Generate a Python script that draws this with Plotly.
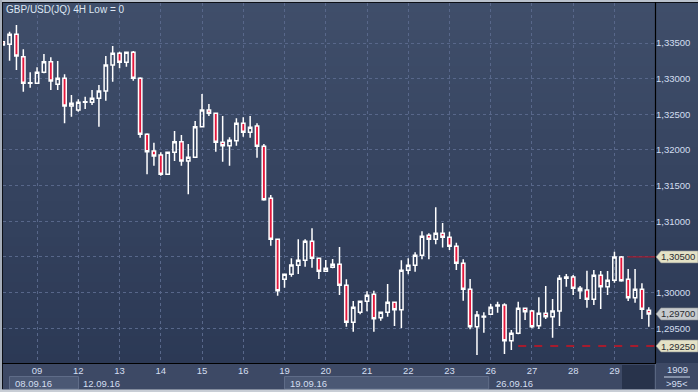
import plotly.graph_objects as go

# ---------------- data ----------------
title_text = "GBP/USD(JQ) 4H Low = 0"
days = ["08", "09", "12", "13", "14", "15", "16", "19", "20", "21", "22", "23", "26", "27", "28", "29"]
first_day_hours = ["04:00", "08:00", "12:00", "16:00", "20:00"]
day_hours = ["00:00", "04:00", "08:00", "12:00", "16:00", "20:00"]

opens = [1.33518, 1.33482, 1.33622, 1.33308, 1.32935, 1.32935, 1.33089, 1.33238, 1.32921, 1.33005,
         1.32616, 1.32560, 1.32668, 1.32668, 1.32724, 1.32827, 1.33191, 1.33356, 1.33229, 1.33370,
         1.33005, 1.32220, 1.31985, 1.31929, 1.31659, 1.31967, 1.32116, 1.31845, 1.31897, 1.32326,
         1.32560, 1.32514, 1.32107, 1.32060, 1.32130, 1.32374, 1.32248, 1.32336, 1.32051, 1.31322,
         1.30747, 1.30186, 1.30256, 1.30382, 1.30452, 1.30719, 1.30480, 1.30298, 1.30354, 1.30396,
         1.30102, 1.29583, 1.29723, 1.29877, 1.29975, 1.29647, 1.29723, 1.29863, 1.29760, 1.30312,
         1.30382, 1.30522, 1.30803, 1.30747, 1.30831, 1.30775, 1.30649, 1.30410, 1.30046, 1.29521,
         1.29657, 1.29695, 1.29811, 1.29825, 1.29325, 1.29429, 1.29779, 1.29741, 1.29535, 1.29709,
         1.29661, 1.29741, 1.30200, 1.30218, 1.30060, 1.30036, 1.29905, 1.30242, 1.30082, 1.30172,
         1.30500, 1.30186, 1.29928, 1.30046, 1.29751]
highs = [1.33528, 1.33658, 1.33752, 1.33412, 1.33089, 1.33159, 1.33346, 1.33299, 1.33248, 1.33061,
         1.32771, 1.32710, 1.32747, 1.32841, 1.32911, 1.33318, 1.33458, 1.33378, 1.33374, 1.33388,
         1.33019, 1.32234, 1.32102, 1.31967, 1.31967, 1.32266, 1.32210, 1.32083, 1.32406, 1.32785,
         1.32644, 1.32514, 1.32476, 1.32177, 1.32444, 1.32458, 1.32476, 1.32374, 1.32083, 1.31368,
         1.30747, 1.30256, 1.30480, 1.30747, 1.30747, 1.30901, 1.30480, 1.30457, 1.30471, 1.30639,
         1.30186, 1.29882, 1.29877, 1.30018, 1.30026, 1.29723, 1.30120, 1.29863, 1.30452, 1.30480,
         1.30565, 1.30859, 1.30831, 1.31196, 1.30975, 1.30853, 1.30699, 1.30466, 1.30190, 1.29741,
         1.29723, 1.29839, 1.29872, 1.29849, 1.29475, 1.29872, 1.29779, 1.29755, 1.29933, 1.30092,
         1.29910, 1.30246, 1.30260, 1.30246, 1.30092, 1.30307, 1.30316, 1.30302, 1.30302, 1.30573,
         1.30513, 1.30330, 1.30330, 1.30130, 1.29793]
lows = [1.33465, 1.33252, 1.33121, 1.32817, 1.32873, 1.32925, 1.33075, 1.32841, 1.32841, 1.32374,
        1.32466, 1.32536, 1.32574, 1.32630, 1.32326, 1.32691, 1.32957, 1.33145, 1.33168, 1.32971,
        1.32172, 1.31659, 1.31779, 1.31639, 1.31659, 1.31845, 1.31779, 1.31378, 1.31897, 1.32318,
        1.32476, 1.31975, 1.31835, 1.31779, 1.32060, 1.32186, 1.32172, 1.31891, 1.31288, 1.30657,
        1.29956, 1.30068, 1.30222, 1.30260, 1.30363, 1.30349, 1.30190, 1.30292, 1.30340, 1.29966,
        1.29521, 1.29451, 1.29695, 1.29737, 1.29451, 1.29605, 1.29661, 1.29531, 1.29503, 1.30256,
        1.30292, 1.30466, 1.30466, 1.30677, 1.30632, 1.30597, 1.30316, 1.29886, 1.29485, 1.29124,
        1.29437, 1.29695, 1.29717, 1.29138, 1.29194, 1.29415, 1.29615, 1.29499, 1.29489, 1.29629,
        1.29367, 1.29531, 1.30082, 1.29966, 1.29910, 1.29788, 1.29825, 1.29769, 1.29966, 1.30138,
        1.30152, 1.29882, 1.29858, 1.29629, 1.29521]
closes = [1.33472, 1.33622, 1.33318, 1.32935, 1.32943, 1.33089, 1.33238, 1.32967, 1.33005, 1.32616,
          1.32654, 1.32668, 1.32677, 1.32724, 1.32827, 1.33191, 1.33356, 1.33229, 1.33370, 1.33005,
          1.32220, 1.31975, 1.31915, 1.31659, 1.31967, 1.32116, 1.31845, 1.31897, 1.32326, 1.32560,
          1.32514, 1.32107, 1.32060, 1.32135, 1.32374, 1.32248, 1.32318, 1.32051, 1.31302, 1.30747,
          1.30026, 1.30256, 1.30386, 1.30452, 1.30719, 1.30480, 1.30298, 1.30340, 1.30396, 1.30102,
          1.29583, 1.29793, 1.29877, 1.29961, 1.29633, 1.29723, 1.29863, 1.29760, 1.30312, 1.30382,
          1.30522, 1.30789, 1.30747, 1.30831, 1.30775, 1.30649, 1.30410, 1.30046, 1.29521, 1.29685,
          1.29667, 1.29793, 1.29825, 1.29325, 1.29429, 1.29779, 1.29731, 1.29521, 1.29709, 1.29661,
          1.29741, 1.30200, 1.30218, 1.30060, 1.30026, 1.29905, 1.30242, 1.30082, 1.30172, 1.30500,
          1.30166, 1.29928, 1.30046, 1.29765, 1.29700]

y_tick_values = [1.295, 1.300, 1.305, 1.310, 1.315, 1.320, 1.325, 1.330, 1.335]
y_tick_labels = ["1,29500", "1,30000", "", "1,31000", "1,31500", "1,32000", "1,32500", "1,33000", "1,33500"]
x_tick_days = ["09", "12", "13", "14", "15", "16", "19", "20", "21", "22", "23", "26", "27", "28", "29"]
week_labels = ["08.09.16", "12.09.16", "19.09.16", "26.09.16"]
week_days = ["08", "12", "19", "26"]

alert_level = 1.30500
alert_start_day, alert_start_hour = "29", "08:00"
support_level = 1.29250
support_start_day, support_start_hour = "26", "16:00"
last_price = closes[-1]
tag_levels = [alert_level, last_price, support_level]
tag_labels = ["1,30500", "1,29700", "1,29250"]
tag_fills = ["#e4e2c6", "#c6cacd", "#e4e2c6"]
corner_top, corner_bottom = "1909", ">95<"

# ---------------- build ----------------
times = [f"{days[0]} {h}" for h in first_day_hours]
for d in days[1:]:
    times += [f"{d} {h}" for h in day_hours]
idx = {t: i for i, t in enumerate(times)}

W, H = 698, 392
L, R, T, B = 3, 43, 3, 29
PW, PH = W - L - R, H - T - B


def px(x):
    return (x - L) / PW


def py(y):
    return (H - B - y) / PH


fig = go.Figure()
fig.add_trace(go.Candlestick(
    x=times, open=opens, high=highs, low=lows, close=closes,
    increasing=dict(line=dict(color="#ffffff", width=1.5), fillcolor="rgba(0,0,0,0)"),
    decreasing=dict(line=dict(color="#ffffff", width=1.5), fillcolor="#e5173c"),
    whiskerwidth=0, hoverinfo="skip", showlegend=False,
))

shapes = []
# gradient background (plot + right axis column)
n = 40
top_c, bot_c = (63, 78, 106), (44, 57, 85)
for k in range(n):
    f = k / (n - 1)
    c = tuple(round(top_c[j] + (bot_c[j] - top_c[j]) * f) for j in range(3))
    y0 = T + PH * k / n
    y1 = T + PH * (k + 1) / n + 0.6
    shapes.append(dict(type="rect", xref="paper", yref="paper", x0=px(0), x1=px(W),
                       y0=py(y1), y1=py(y0), fillcolor="rgb(%d,%d,%d)" % c, line_width=0, layer="below"))
# bottom strip
shapes.append(dict(type="rect", xref="paper", yref="paper", x0=px(0), x1=px(W), y0=py(H), y1=py(H - B),
                   fillcolor="#3d4965", line_width=0, layer="below"))
# week boxes in date row
shapes.append(dict(type="rect", xref="paper", yref="paper", x0=px(9.5), x1=px(78.5), y0=py(389), y1=py(376.5),
                   fillcolor="#4b5874", line=dict(color="#5f6c88", width=1), layer="below"))
shapes.append(dict(type="rect", xref="x", yref="paper", x0=idx["19 00:00"], x1=idx["26 00:00"] - 0.3,
                   y0=py(389), y1=py(376.5), fillcolor="#4b5874", line=dict(color="#5f6c88", width=1), layer="below"))
# dark scroll box
shapes.append(dict(type="rect", xref="paper", yref="paper", x0=px(622), x1=px(654.5), y0=py(389), y1=py(365),
                   fillcolor="#28334b", line_width=0, layer="below"))
# borders
shapes += [
    dict(type="rect", xref="paper", yref="paper", x0=px(0), x1=px(W), y0=py(2), y1=py(0),
         fillcolor="#b9c1cc", line_width=0, layer="above"),
    dict(type="line", xref="paper", yref="paper", x0=px(2), x1=px(W), y0=py(2.5), y1=py(2.5),
         line=dict(color="#0c0f16", width=1), layer="above"),
    dict(type="rect", xref="paper", yref="paper", x0=px(0), x1=px(2), y0=py(H), y1=py(0),
         fillcolor="#a6aeba", line_width=0, layer="above"),
    dict(type="line", xref="paper", yref="paper", x0=px(2.5), x1=px(2.5), y0=py(389), y1=py(2),
         line=dict(color="#0c0f16", width=1), layer="above"),
    dict(type="line", xref="paper", yref="paper", x0=px(655.5), x1=px(655.5), y0=py(363), y1=py(2),
         line=dict(color="#000000", width=1.2), layer="above"),
    dict(type="line", xref="paper", yref="paper", x0=px(2), x1=px(656), y0=py(363.5), y1=py(363.5),
         line=dict(color="#000000", width=1.2), layer="above"),
    dict(type="line", xref="paper", yref="paper", x0=px(655.5), x1=px(655.5), y0=py(389), y1=py(364),
         line=dict(color="#58657f", width=1), layer="above"),
    dict(type="rect", xref="paper", yref="paper", x0=px(0), x1=px(W), y0=py(H), y1=py(389.5),
         fillcolor="#c8cdd5", line_width=0, layer="above"),
    dict(type="line", xref="paper", yref="paper", x0=px(664), x1=px(690), y0=py(377), y1=py(377),
         line=dict(color="#c9d5e8", width=1), layer="above"),
]
# alert & support lines
shapes.append(dict(type="line", xref="x", yref="y", x0=idx[f"{alert_start_day} {alert_start_hour}"] - 0.1,
                   x1=len(times), y0=alert_level, y1=alert_level,
                   line=dict(color="#a8182c", width=1.2), layer="above"))
shapes.append(dict(type="line", xref="x", yref="y", x0=idx[f"{support_start_day} {support_start_hour}"],
                   x1=len(times), y0=support_level, y1=support_level,
                   line=dict(color="#a51c2e", width=2, dash="8px,8px"), layer="above"))
# price tags
for lv, fc in zip(tag_levels, tag_fills):
    shapes.append(dict(type="path", xref="paper", yref="y", xsizemode="pixel", ysizemode="pixel",
                       xanchor=1.0, yanchor=lv,
                       path="M 1,0 L 6,6 L 43,6 L 43,-6 L 6,-6 Z",
                       fillcolor=fc, line=dict(color="#8a8d90", width=0.6), layer="above"))

font = "Liberation Sans, Arial, sans-serif"
lab_col = "#d3def0"
ann = [dict(text=title_text, xref="paper", yref="paper", x=px(4), y=py(9.5), xanchor="left", yanchor="middle",
            showarrow=False, font=dict(family=font, size=10, color="#dde6f3"))]
for lv, lb in zip(tag_levels, tag_labels):
    ann.append(dict(text=lb, xref="paper", yref="y", x=px(658.5), y=lv, xanchor="left", yanchor="middle",
                    showarrow=False, font=dict(family=font, size=9.5, color="#2a2c30")))
ann.append(dict(text=week_labels[0], xref="paper", yref="paper", x=px(13), y=py(383), xanchor="left",
                yanchor="middle", showarrow=False, font=dict(family=font, size=9.5, color=lab_col)))
for wl, wd in zip(week_labels[1:], week_days[1:]):
    ann.append(dict(text=wl, xref="x", yref="paper", x=f"{wd} 00:00", xshift=3, y=py(383), xanchor="left",
                    yanchor="middle", showarrow=False, font=dict(family=font, size=9.5, color=lab_col)))
ann.append(dict(text=corner_top, xref="paper", yref="paper", x=px(677), y=py(369.5), xanchor="center",
                yanchor="middle", showarrow=False, font=dict(family=font, size=9.5, color=lab_col)))
ann.append(dict(text=corner_bottom, xref="paper", yref="paper", x=px(677), y=py(383), xanchor="center",
                yanchor="middle", showarrow=False, font=dict(family=font, size=9.5, color=lab_col)))

grid_col = "#58678a"
fig.update_layout(
    width=W, height=H, autosize=False,
    margin=dict(l=L, r=R, t=T, b=B, pad=0),
    paper_bgcolor="#3b4863", plot_bgcolor="rgba(0,0,0,0)",
    shapes=shapes, annotations=ann,
    font=dict(family=font, size=9.5, color=lab_col),
    xaxis=dict(type="category", categoryorder="array", categoryarray=times,
               range=[0.044, 94.9], rangeslider=dict(visible=False),
               tickvals=[f"{d} 00:00" for d in x_tick_days], ticktext=x_tick_days,
               showgrid=True, gridcolor=grid_col, griddash="3px,3px", gridwidth=1,
               ticks="", showline=False, zeroline=False,
               tickfont=dict(family=font, size=9.5, color=lab_col)),
    yaxis=dict(side="right", range=[1.29012, 1.34061],
               tickvals=y_tick_values, ticktext=y_tick_labels,
               showgrid=True, gridcolor=grid_col, griddash="3px,3px", gridwidth=1,
               ticks="", showline=False, zeroline=False, ticklabelstandoff=0,
               tickfont=dict(family=font, size=9.5, color=lab_col)),
    showlegend=False, hovermode=False,
)

fig.write_html("out.html", config={"displayModeBar": False},
               post_script="document.body.style.margin='0';document.body.style.padding='0';"
                           "document.body.style.overflow='hidden';")
